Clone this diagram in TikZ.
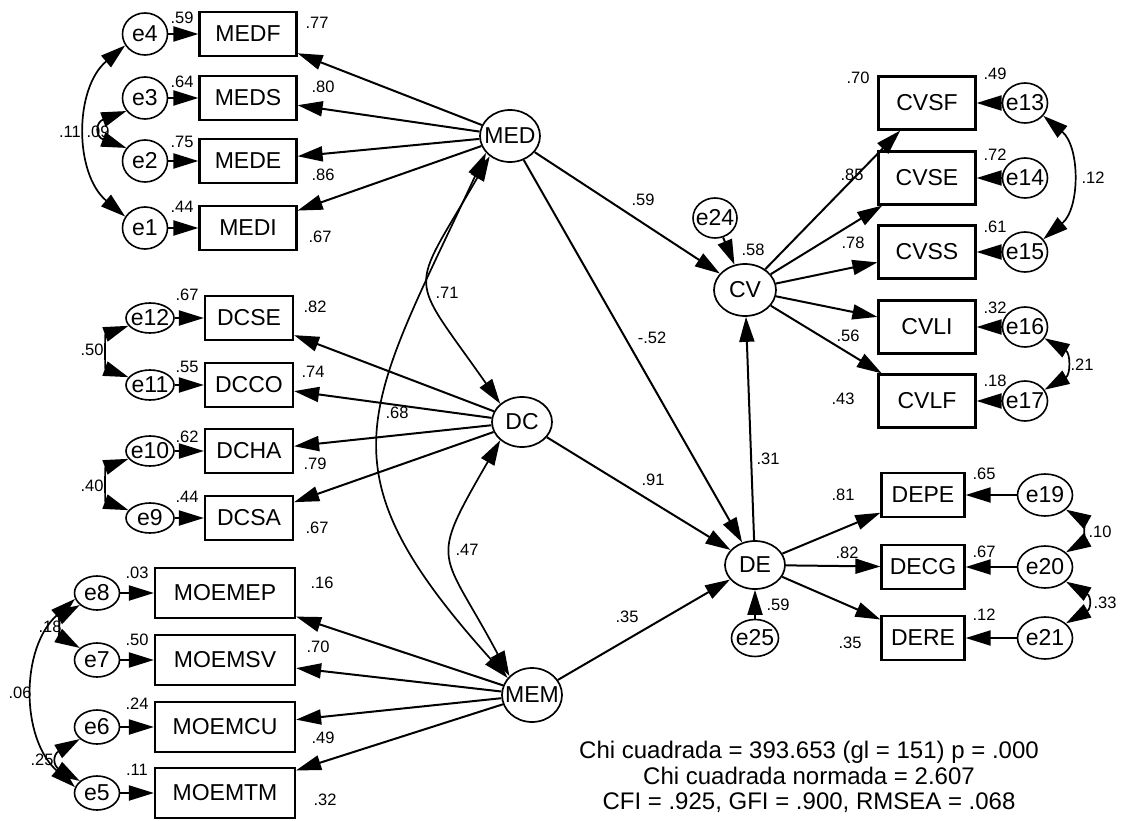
\documentclass[tikz,border=0pt]{standalone}
\usepackage{fontspec}
\setmainfont{Liberation Sans}
\usetikzlibrary{arrows.meta,shapes.geometric}

\begin{document}
\begin{tikzpicture}[x=1pt, y=1pt,
  >={Triangle[length=25pt,width=15pt]},
  latent/.style={ellipse, draw, line width=1.7pt, inner xsep=-6pt, inner ysep=0pt,
                 minimum width=60pt, minimum height=52pt,
                 font=\fontsize{23}{26}\selectfont},
  err/.style={ellipse, draw, line width=1.6pt, inner xsep=-6pt, inner ysep=0pt,
              font=\fontsize{23}{26}\selectfont},
  obs/.style={rectangle, draw, line width=2.2pt, inner sep=0pt,
              minimum height=44pt, font=\fontsize{23}{26}\selectfont},
  est/.style={inner sep=0pt, font=\fontsize{16.5}{18}\selectfont},
  reg/.style={draw, ->, line width=2pt},
  cov/.style={draw, <->, line width=1.7pt},
  gof/.style={align=center, font=\fontsize{24}{25.5}\selectfont},
]
  \useasboundingbox (0,0) rectangle (1124,-821);

  % Latent variables
  \node[latent] (MED) at (510,-136) {MED};
  \node[latent, minimum height=50pt] (DC) at (522,-422) {DC};
  \node[latent, minimum height=54pt] (MEM) at (532,-695) {MEM};
  \node[latent, minimum width=62pt] (CV) at (745,-290) {CV};
  \node[latent, minimum height=48pt] (DE) at (755,-565) {DE};

  % Disturbances
  \node[err, minimum width=44pt, minimum height=40pt] (e24) at (715,-218) {e24};
  \node[err, minimum width=47pt, minimum height=37pt] (e25) at (755,-638) {e25};

  % MED indicators
  \foreach \i/\v/\y/\r/\ry/\w/\wx/\wy in {4/MEDF/34/.59/18/.77/317/23,
      3/MEDS/98/.64/82/.80/323/87, 2/MEDE/161/.75/142/.86/323/175,
      1/MEDI/228/.44/207/.67/320/237}{
    \node[err, minimum width=45pt, minimum height=42pt] (e\i) at (145,-\y) {e\i};
    \node[obs, minimum width=97pt] (\v) at (248,-\y) {\v};
    \node[est] (r\i) at (182,-\ry) {\r};
    \node[est] (w\i) at (\wx,-\wy) {\w};
    \draw[reg] (e\i) -- (\v);
    \draw[reg] (MED) -- (\v);
  }

  % DC indicators
  \foreach \i/\v/\y/\r/\ry/\w/\wx/\wy in {12/DCSE/318/.67/295/.82/315/307,
      11/DCCO/385/.55/367/.74/313/372, 10/DCHA/451/.62/437/.79/315/464,
      9/DCSA/518/.44/497/.67/317/528}{
    \node[err, minimum width=48pt, minimum height=30pt] (e\i) at (150,-\y) {e\i};
    \node[obs, minimum width=88pt] (\v) at (249,-\y) {\v};
    \node[est] (r\i) at (187,-\ry) {\r};
    \node[est] (w\i) at (\wx,-\wy) {\w};
    \draw[reg] (e\i) -- (\v);
    \draw[reg] (DC) -- (\v);
  }

  % MEM indicators
  \foreach \i/\v/\y/\r/\ry/\w/\wx/\wy in {8/MOEMEP/593/.03/573/.16/322/583,
      7/MOEMSV/660/.50/640/.70/318/647, 6/MOEMCU/727/.24/704/.49/323/738,
      5/MOEMTM/793/.11/770/.32/325/800}{
    \node[err, minimum width=45pt, minimum height=34pt] (e\i) at (97,-\y) {e\i};
    \node[obs, minimum width=140pt, minimum height=50pt] (\v) at (225,-\y) {\v};
    \node[est] (r\i) at (137,-\ry) {\r};
    \node[est] (w\i) at (\wx,-\wy) {\w};
    \draw[reg] (e\i) -- (\v);
    \draw[reg] (MEM) -- (\v);
  }

  % CV indicators
  \foreach \i/\v/\y/\r/\ry/\w/\wx/\wy in {13/CVSF/103/.49/74/.70/858/78,
      14/CVSE/178/.72/155/.85/852/175, 15/CVSS/252/.61/227/.78/853/243,
      16/CVLI/327/.32/308/.56/848/336, 17/CVLF/401/.18/381/.43/843/399}{
    \node[err, minimum width=45pt, minimum height=40pt] (e\i) at (1025,-\y) {e\i};
    \node[obs, minimum width=97pt, minimum height=53pt] (\v) at (927,-\y) {\v};
    \node[est] (r\i) at (995,-\ry) {\r};
    \node[est] (w\i) at (\wx,-\wy) {\w};
    \draw[reg] (e\i) -- (\v);
    \draw[reg] (CV) -- (\v);
  }

  % DE indicators
  \foreach \i/\v/\y/\r/\ry/\w/\wx/\wy in {19/DEPE/495/.65/474/.81/843/495,
      20/DECG/567/.67/552/.82/847/553, 21/DERE/638/.12/615/.35/850/643}{
    \node[err, minimum width=55pt, minimum height=42pt] (e\i) at (1045,-\y) {e\i};
    \node[obs, minimum width=83pt] (\v) at (923,-\y) {\v};
    \node[est] (r\i) at (984,-\ry) {\r};
    \node[est] (w\i) at (\wx,-\wy) {\w};
    \draw[reg] (e\i) -- (\v);
    \draw[reg] (DE) -- (\v);
  }

  % Structural paths
  \draw[reg] (MED) -- (CV);
  \draw[reg] (MED) -- (DE);
  \draw[reg] (DC) -- (DE);
  \draw[reg] (MEM) -- (DE);
  \draw[reg] (DE) -- (CV);
  \draw[reg] (e24) -- (CV);
  \draw[reg] (e25) -- (DE);
  \node[est] (bMEDCV) at (643,-200) {.59};
  \node[est] (bMEDDE) at (652,-338) {-.52};
  \node[est] (bDCDE) at (653,-480) {.91};
  \node[est] (bMEMDE) at (627,-617) {.35};
  \node[est] (bDECV) at (768,-459) {.31};
  \node[est] (rCV) at (753,-250) {.58};
  \node[est] (rDE) at (778,-605) {.59};

  % Correlations among latent factors
  \draw[cov] (MED.225) to[out=240, in=125, looseness=1.68] (DC.140);
  \draw[cov] (MED.215) to[out=245, in=132, looseness=1.39] (MEM.145);
  \draw[cov] (DC.220) to[out=240, in=118, looseness=1.58] (MEM.140);
  \node[est] (cMEDDC) at (447,-293) {.71};
  \node[est] (cMEDMEM) at (397,-413) {.68};
  \node[est] (cDCMEM) at (467,-550) {.47};

  % Correlated errors, left
  \draw[cov] (e4.210) to[bend right=50] (e1.150);
  \draw[cov] (e3.215) to[out=200, in=160, looseness=2.3] (e2.145);
  \draw[cov] (e12.200) to[out=200, in=160, looseness=1.25] (e11.160);
  \draw[cov] (e10.200) to[out=200, in=160, looseness=1.25] (e9.160);
  \draw[cov] (e8.215) to[out=210, in=150, looseness=1.4] (e7.145);
  \draw[cov] (e8.195) to[bend right=48] (e5.165);
  \draw[cov] (e6.215) to[out=210, in=150, looseness=1.9] (e5.145);
  \node[est] (c41) at (70,-132) {.11};
  \node[est] (c32) at (98,-132) {.09};
  \node[est] (c1211) at (92,-350) {.50};
  \node[est] (c109) at (92,-486) {.40};
  \node[est] (c87) at (50,-627) {.18};
  \node[est] (c85) at (20,-693) {.06};
  \node[est] (c65) at (42,-760) {.25};

  % Correlated errors, right
  \draw[cov] (e13.-35) to[bend left=50] (e15.35);
  \draw[cov] (e16.-30) to[out=-30, in=30, looseness=1.5] (e17.30);
  \draw[cov] (e19.-35) to[out=-30, in=30, looseness=1.2] (e20.35);
  \draw[cov] (e20.-35) to[out=-30, in=30, looseness=1.8] (e21.35);
  \node[est] (c1315) at (1093,-178) {.12};
  \node[est] (c1617) at (1082,-365) {.21};
  \node[est] (c1920) at (1100,-532) {.10};
  \node[est] (c2021) at (1105,-603) {.33};

  % Fit indices
  \node[gof] (stats) at (809,-777) {Chi cuadrada = 393.653 (gl = 151) p = .000\\
    Chi cuadrada normada = 2.607\\
    CFI = .925, GFI = .900, RMSEA = .068};
\end{tikzpicture}
\end{document}
